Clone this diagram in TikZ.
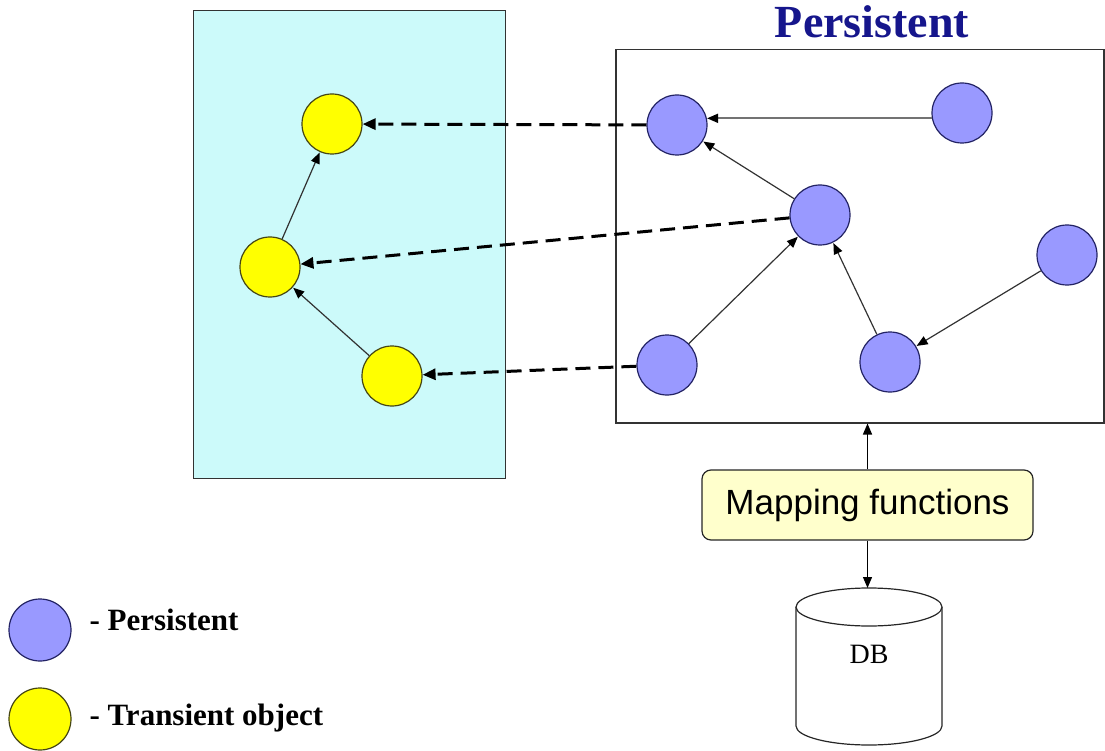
\documentclass[tikz,border=0pt]{standalone}
\usepackage{fontspec}
\setmainfont{Liberation Serif}
\newfontfamily\arialfont{Liberation Sans}
\usetikzlibrary{arrows.meta}

\definecolor{transbg}{RGB}{204,250,250}
\definecolor{persfill}{RGB}{153,153,255}
\definecolor{persline}{RGB}{35,35,100}
\definecolor{transfill}{RGB}{255,255,0}
\definecolor{transline}{RGB}{70,70,20}
\definecolor{titleblue}{RGB}{22,22,140}
\definecolor{mapfill}{RGB}{255,255,204}
\definecolor{linkgray}{RGB}{50,50,50}

\tikzset{
  pobj/.style={circle, draw=persline, fill=persfill, line width=1.2pt, minimum size=60pt, inner sep=0pt},
  tobj/.style={circle, draw=transline, fill=transfill, line width=1.2pt, minimum size=60pt, inner sep=0pt},
  link/.style={draw=linkgray, line width=1.2pt, -{Triangle[length=11pt,width=9pt,color=black]}, shorten >=0.5pt},
  loadlink/.style={draw=black, line width=3pt, dash pattern=on 15pt off 8pt, -{Triangle[length=13pt,width=11pt]}},
  vlink/.style={draw=black, line width=1.2pt, -{Triangle[length=11pt,width=9pt]}},
  legendtext/.style={anchor=base west, font=\bfseries\fontsize{31}{31}\selectfont},
}

\begin{document}
\begin{tikzpicture}[x=1pt, y=-1pt]
\useasboundingbox (0,0) rectangle (1105,751);

% transient side
\node[draw=linkgray, fill=transbg, line width=1.3pt, anchor=north west,
      minimum width=312pt, minimum height=468pt, inner sep=0pt] (tbox) at (193,10) {};
\node[tobj] (y1) at (332,124) {};
\node[tobj] (y2) at (270,267) {};
\node[tobj] (y3) at (392,376) {};

% persistent side
\node[font=\bfseries\fontsize{46}{46}\selectfont, text=titleblue, anchor=base] (ptitle) at (872,38) {Persistent};
\node[draw=black!80, line width=1.5pt, anchor=north west,
      minimum width=488pt, minimum height=373pt, inner sep=0pt] (pbox) at (615,49) {};
\node[pobj] (p1) at (677,125) {};
\node[pobj] (p2) at (962,113) {};
\node[pobj] (p3) at (820,215) {};
\node[pobj] (p4) at (1067,255) {};
\node[pobj] (p5) at (667,365) {};
\node[pobj] (p6) at (890,362) {};

% references between objects
\draw[link, draw=black!55, line width=1.8pt] (p2.190) -- ([xshift=-1pt]p2.190 -| p1.east);
\draw[link] (p3) -- (p1);
\draw[link] (p5) -- (p3);
\draw[link] (p6) -- (p3);
\draw[link] (p4) -- (p6);
\draw[link] (y2) -- (y1);
\draw[link] (y3) -- (y2);

% loading persistent objects into memory
\draw[loadlink] (p1) -- (y1);
\draw[loadlink] (p3) -- (y2);
\draw[loadlink] (p5) -- (y3);

% mapping layer
\node[draw=black!85, fill=mapfill, line width=1.2pt, rounded corners=9pt,
      minimum width=331pt, minimum height=70pt, inner sep=0pt,
      font=\arialfont\fontsize{35}{35}\selectfont] (map) at (867.5,505) {Mapping functions};

% database cylinder
\draw[draw=black!85, fill=white, line width=1.2pt]
  (796,607) -- (796,726) arc[start angle=180, end angle=0, x radius=73, y radius=19] -- (942,607);
\draw[draw=black!85, fill=white, line width=1.2pt] (869,607) ellipse[x radius=73, y radius=19];
\node[font=\fontsize{28}{28}\selectfont] (db) at (869,654) {DB};
\coordinate (dbtop) at (867.5,588);

\draw[vlink] (map.north) -- (map.north |- pbox.south);
\draw[vlink] (map.south) -- (dbtop);

% legend
\node[pobj, minimum size=62pt] (lp) at (40,630) {};
\node[legendtext] (lpt) at (86,630) {- Persistent};
\node[tobj, minimum size=62pt] (lt) at (40,719) {};
\node[legendtext] (ltt) at (86,725) {- Transient object};
\end{tikzpicture}
\end{document}
